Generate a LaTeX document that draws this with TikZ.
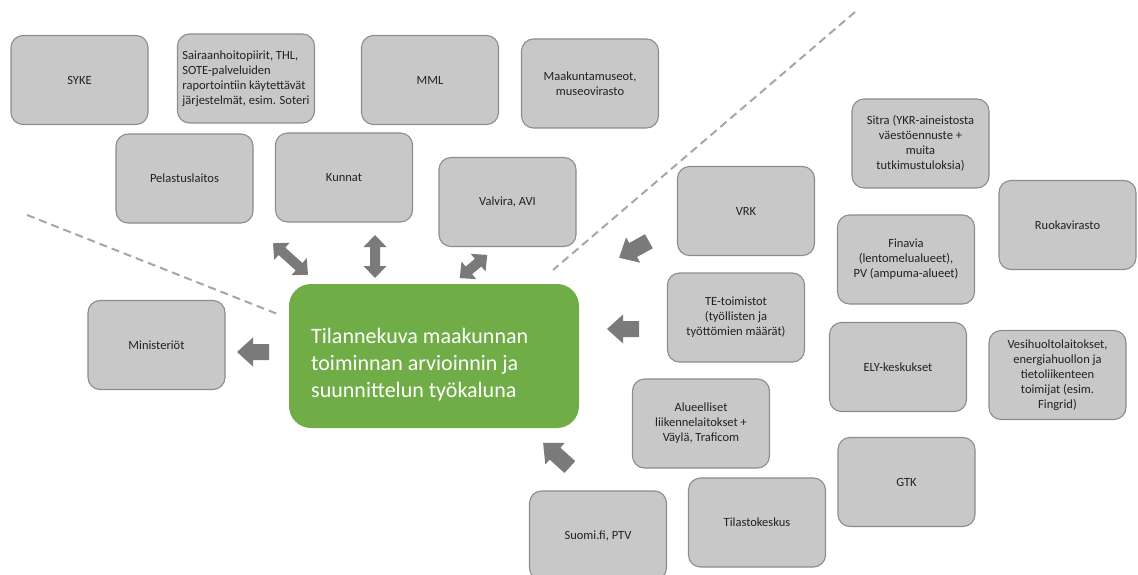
\documentclass[tikz,border=0pt]{standalone}
\usepackage{fontspec}
\setmainfont{Carlito}
\definecolor{boxfill}{HTML}{C8C8C8}
\definecolor{boxline}{HTML}{8C8C8C}
\definecolor{boxtext}{HTML}{222222}
\definecolor{greenfill}{HTML}{70AD47}
\definecolor{arrowgray}{HTML}{7A7A7A}
\definecolor{dashgray}{HTML}{A6A6A6}
\newcommand\blkarrowS[4]{%
  \fill[arrowgray, shift={(#1,#2)}, rotate=#3]
    ({-#4/2},-8) -- ({#4/2-16},-8) -- ({#4/2-16},-14.5) -- ({#4/2},0)
    -- ({#4/2-16},14.5) -- ({#4/2-16},8) -- ({-#4/2},8) -- cycle;}
\newcommand\blkarrowD[4]{%
  \fill[arrowgray, shift={(#1,#2)}, rotate=#3]
    ({-#4/2},0) -- ({-#4/2+12},11.5) -- ({-#4/2+12},5) -- ({#4/2-12},5)
    -- ({#4/2-12},11.5) -- ({#4/2},0) -- ({#4/2-12},-11.5) -- ({#4/2-12},-5)
    -- ({-#4/2+12},-5) -- ({-#4/2+12},-11.5) -- cycle;}
\begin{document}
\begin{tikzpicture}[x=1pt, y=-1pt,
  orgbox/.style={draw=boxline, line width=1.1pt, fill=boxfill, rounded corners=12pt,
    minimum width=137pt, minimum height=89pt, inner sep=4pt, align=center,
    text=boxtext, font=\fontsize{12.5}{15}\selectfont},
  greenbox/.style={fill=greenfill, draw=none, rounded corners=22pt,
    minimum width=290pt, minimum height=144pt},
  greentext/.style={text=white, align=left, inner sep=0pt,
    font=\fontsize{22}{27}\selectfont},
  divider/.style={draw=dashgray, line width=2pt, dash pattern=on 8pt off 5pt}]
\useasboundingbox (0,0) rectangle (1138,575);
% dashed dividers
\coordinate (dl1) at (27,215);
\coordinate (dl2) at (280,315);
\coordinate (dr1) at (855,12);
\coordinate (dr2) at (553,270);
\draw[divider] (dl1) -- (dl2);
\draw[divider] (dr1) -- (dr2);
% central node
\node[greenbox] (center) at (434,356) {};
\node[greentext, anchor=west] (ctext) at (311,365) {Tilannekuva maakunnan\\toiminnan arvioinnin ja\\suunnittelun työkaluna};
% boxes
\node[orgbox] (syke) at (79.5,80) {SYKE};
\node[orgbox, align=left] (sair) at (246,78.5) {Sairaanhoitopiirit, THL,\\SOTE-palveluiden\\raportointiin käytettävät\\järjestelmät, esim. Soteri};
\node[orgbox] (mml) at (430,80) {MML};
\node[orgbox] (museo) at (590,83.5) {Maakuntamuseot,\\museovirasto};
\node[orgbox] (pelast) at (184.5,178.5) {Pelastuslaitos};
\node[orgbox] (kunnat) at (344,177.5) {Kunnat};
\node[orgbox] (valvira) at (507.5,202) {Valvira, AVI};
\node[orgbox] (vrk) at (746,211) {VRK};
\node[orgbox] (sitra) at (920.5,143.5) {Sitra (YKR-aineistosta\\väestöennuste +\\muita\\tutkimustuloksia)};
\node[orgbox] (ruoka) at (1067.5,225) {Ruokavirasto};
\node[orgbox] (finavia) at (906,259.5) {Finavia\\(lentomelualueet),\\PV (ampuma-alueet)};
\node[orgbox] (te) at (736,317.5) {TE-toimistot\\(työllisten ja\\työttömien määrät)};
\node[orgbox] (ely) at (898,367) {ELY-keskukset};
\node[orgbox] (vesi) at (1057.5,375) {Vesihuoltolaitokset,\\energiahuollon ja\\tietoliikenteen\\toimijat (esim.\\Fingrid)};
\node[orgbox] (aluee) at (701,423.5) {Alueelliset\\liikennelaitokset +\\Väylä, Traficom};
\node[orgbox] (gtk) at (906.5,482) {GTK};
\node[orgbox] (tilasto) at (757,522.5) {Tilastokeskus};
\node[orgbox] (suomi) at (598,535.5) {Suomi.fi, PTV};
\node[orgbox] (minist) at (156.5,345) {Ministeriöt};
% block arrows
\blkarrowD{290.5}{259}{-42}{47}
\blkarrowD{375}{256.5}{90}{43}
\blkarrowD{473.5}{266.5}{40}{36}
\blkarrowS{253}{352}{180}{32}
\blkarrowS{634}{249.5}{209}{34}
\blkarrowS{623}{329}{180}{32}
\blkarrowS{556.5}{455}{138}{36}
\end{tikzpicture}
\end{document}
